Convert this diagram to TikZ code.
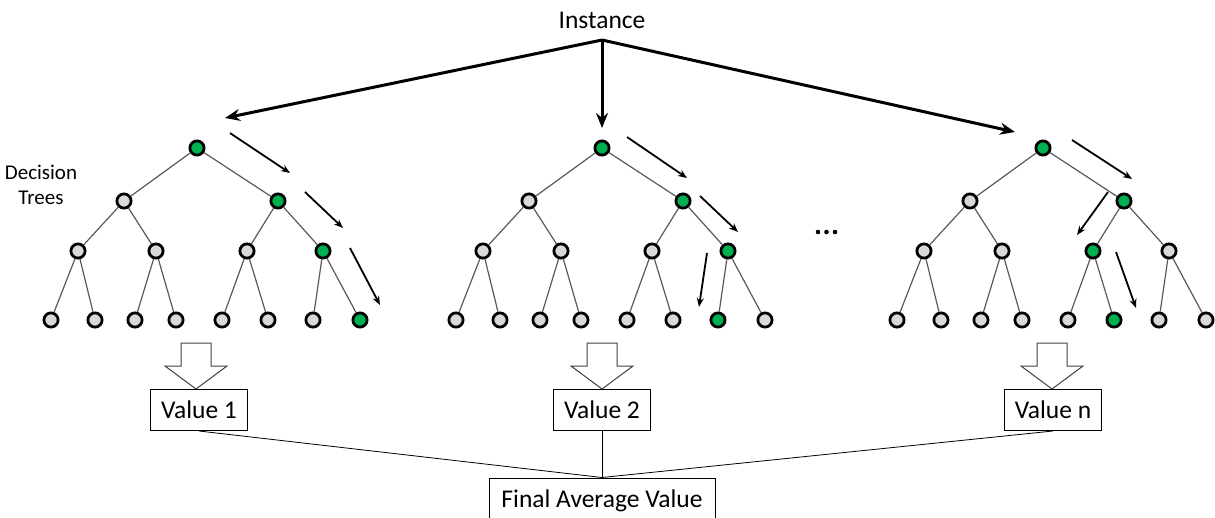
\documentclass[tikz,border=0pt]{standalone}
\usepackage{fontspec}
\setmainfont{Carlito}
\usetikzlibrary{shapes, arrows.meta, positioning}

\definecolor{leafgray}{HTML}{D9D9D9}
\definecolor{leafgreen}{HTML}{00B050}
\definecolor{branchgray}{HTML}{595959}

\tikzset{
  vertex/.style={draw, circle, line width=2.8pt, fill=leafgray, minimum size=14.2pt, inner sep=0pt},
  hot/.style={n#1/.style={fill=leafgreen}}, % marks a node of the chosen path
  branch/.style={draw=branchgray, line width=1.2pt},
  bigarrow/.style={line width=3pt, -{Stealth[length=15pt, width=12pt]}},
  walk/.style={line width=1.8pt, -{Stealth[length=9pt, width=7pt]}},
  valuebox/.style={draw, line width=1pt, minimum width=97pt, minimum height=41pt, inner sep=2pt, font=\fontsize{25.5}{30}\selectfont},
  blockarrow/.style={draw=black!75, line width=1pt, fill=white},
}

% one tree: #1 name, #2 x of the root, #3 green nodes (heap numbering)
\newcommand{\dtree}[3]{%
  \begin{scope}[shift={(#2,148)}, hot/.list={#3}]
    \foreach \i/\x/\y in {1/0/0, 2/-73/53, 3/81/53, 4/-119/103, 5/-41/103, 6/50/103, 7/126/103,
        8/-146/172, 9/-102/172, 10/-62/172, 11/-21/172, 12/25/172, 13/71/172, 14/116/172, 15/163/172}
      \node[vertex, n\i/.try] (#1-\i) at (\x,\y) {};
    \foreach \i in {2,...,15}{
      \pgfmathtruncatemacro\up{\i/2}
      \draw[branch] (#1-\up) -- (#1-\i);
    }
  \end{scope}}

% hollow down arrow above a value box
\newcommand{\hollowdown}[1]{%
  \draw[blockarrow] (#1-15,343) -- ++(30,0) -- ++(0,23) -- ++(16,0) -- (#1,389) -- ++(-31,-23) -- ++(16,0) -- cycle;}

\begin{document}
\begin{tikzpicture}[x=1pt, y=-1pt]
  \useasboundingbox (0,0) rectangle (1215,517);
  \clip (0,0) rectangle (1215,517);

  \node (inst) at (602,20) {\fontsize{25.5}{30}\selectfont Instance};
  \coordinate (fork) at (602,40);
  \node[align=center, font=\fontsize{21}{25}\selectfont] (dt) at (41,185) {Decision\\Trees};

  \dtree{t1}{197}{1,3,7,15}
  \dtree{t2}{602}{1,3,7,14}
  \dtree{t3}{1043}{1,3,6,13}

  \coordinate (in1) at (225,118);
  \coordinate (in2) at (602,128);
  \coordinate (in3) at (1015,132);
  \draw[bigarrow] (fork) -- (in1);
  \draw[bigarrow] (fork) -- (in2);
  \draw[bigarrow] (fork) -- (in3);

  % path taken through each tree
  \draw[walk] (230,133) -- (290,173);
  \draw[walk] (305,192) -- (343,228);
  \draw[walk] (350,248) -- (380,305);
  \draw[walk] (627,137) -- (687,178);
  \draw[walk] (700,196) -- (738,232);
  \draw[walk] (707,253) -- (699,307);
  \draw[walk] (1072,140) -- (1132,179);
  \draw[walk] (1108,192) -- (1077,235);
  \draw[walk] (1116,252) -- (1136,308);

  \foreach \d in {818,826.5,835} \fill (\d,232) circle (2.3);

  \hollowdown{196}
  \hollowdown{602}
  \hollowdown{1052}

  \node[valuebox] (v1) at (199,410) {Value 1};
  \node[valuebox] (v2) at (602,410) {Value 2};
  \node[valuebox] (vn) at (1053,410) {Value n};
  \node[valuebox, minimum width=226pt, minimum height=45pt] (avg) at (602,500.5) {Final Average Value};

  \draw[line width=0.8pt] (v1.south) -- (avg.north);
  \draw[line width=0.8pt] (v2.south) -- (avg.north);
  \draw[line width=0.8pt] (vn.south) -- (avg.north);
\end{tikzpicture}
\end{document}
